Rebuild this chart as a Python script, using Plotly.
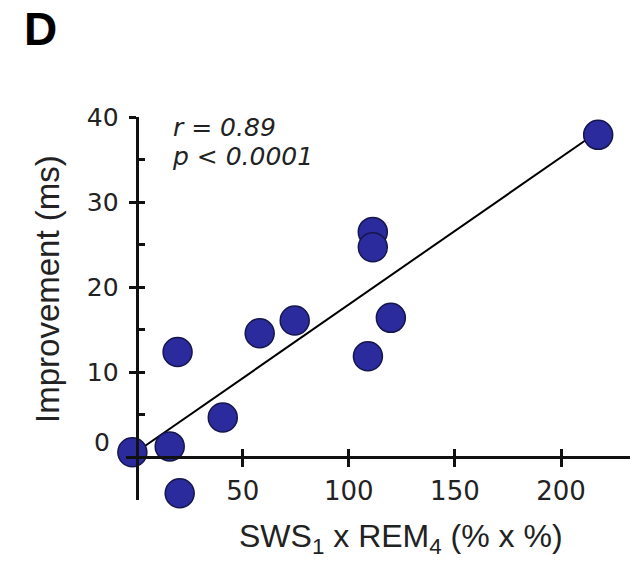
import numpy as np
import plotly.graph_objects as go

# Data
sws_rem = [-2.0, 15.6, 20.3, 19.3, 40.6, 58.0, 74.5, 109.0, 119.8, 111.3, 111.3, 217.5]
improvement = [0.6, 1.3, -4.2, 12.4, 4.7, 14.6, 16.1, 11.9, 16.4, 26.5, 24.7, 37.9]

x_ticks = [50, 100, 150, 200]
y_ticks = [0, 10, 20, 30, 40]
y_minor = [-5, 0, 5, 10, 15, 20, 25, 30, 35, 40]
x_range = [-5, 232.5]
y_range = [-5, 40]

stats_lines = ["r = 0.89", "p < 0.0001"]
panel_label = "D"
x_title = "SWS<sub>1</sub> x REM<sub>4</sub> (% x %)"
y_title = "Improvement (ms)"

# Regression line computed from the data
slope, intercept = np.polyfit(sws_rem, improvement, 1)
fit_x = [0, max(sws_rem)]
fit_y = [intercept + slope * v for v in fit_x]

AX = "#111111"
TICKFONT = "DejaVu Sans"
TITLEFONT = "Liberation Sans, Arial, sans-serif"

fig = go.Figure()
fig.add_trace(go.Scatter(x=fit_x, y=fit_y, mode="lines",
                         line=dict(color="black", width=2),
                         cliponaxis=False, showlegend=False, hoverinfo="skip"))
fig.add_trace(go.Scatter(x=sws_rem, y=improvement, mode="markers",
                         marker=dict(size=29, color="#2b2b9e",
                                     line=dict(color="#16164c", width=1.5)),
                         cliponaxis=False, showlegend=False))
fig.add_trace(go.Scatter(x=[], y=[], xaxis="x2", yaxis="y2", showlegend=False))

x_zero_pos = (0 - x_range[0]) / (x_range[1] - x_range[0])
y_zero_pos = (0 - y_range[0]) / (y_range[1] - y_range[0])

fig.update_layout(
    width=630, height=572,
    margin=dict(l=126, r=0, t=117, b=72),
    paper_bgcolor="white", plot_bgcolor="white",
    showlegend=False,
    xaxis=dict(range=x_range, domain=[0, 1], anchor="free", position=y_zero_pos,
               showline=True, linecolor=AX, linewidth=3,
               ticks="outside", ticklen=8, tickwidth=2.5, tickcolor=AX,
               tickvals=x_ticks, ticktext=[str(v) for v in x_ticks],
               tickfont=dict(family=TICKFONT, size=26, color="#222"),
               ticklabelstandoff=1, automargin=False,
               showgrid=False, zeroline=False),
    xaxis2=dict(range=x_range, domain=[0, 1], overlaying="x", anchor="free",
                position=y_zero_pos, showline=False,
                ticks="inside", ticklen=8, tickwidth=2.5, tickcolor=AX,
                tickvals=x_ticks, showticklabels=False, automargin=False,
                showgrid=False, zeroline=False),
    yaxis=dict(range=y_range, domain=[0, 1], anchor="free", position=x_zero_pos,
               showline=True, linecolor=AX, linewidth=3,
               ticks="outside", ticklen=7, tickwidth=2.5, tickcolor=AX,
               tickvals=y_ticks[1:], ticktext=[str(v) for v in y_ticks[1:]],
               tickfont=dict(family=TICKFONT, size=25, color="#222"),
               ticklabelstandoff=5, automargin=False,
               showgrid=False, zeroline=False),
    yaxis2=dict(range=y_range, domain=[0, 1], overlaying="y", anchor="free",
                position=x_zero_pos, side="left", showline=False,
                ticks="inside", ticklen=7, tickwidth=2.5, tickcolor=AX,
                tickvals=y_minor, showticklabels=False, automargin=False,
                showgrid=False, zeroline=False),
)

annotations = [
    # zero label of y axis (raised above the x axis as in the reference)
    dict(x=0, y=y_ticks[0], xref="x", yref="y", text=str(y_ticks[0]),
         showarrow=False, xanchor="right", yanchor="middle", xshift=-25, yshift=15,
         font=dict(family=TICKFONT, size=25, color="#222")),
    dict(x=0.089, y=0.9713, xref="paper", yref="paper", text="<i>" + stats_lines[0] + "</i>",
         showarrow=False, xanchor="left", yanchor="middle",
         font=dict(family=TICKFONT, size=25, color="#222")),
    dict(x=0.087, y=0.897, xref="paper", yref="paper", text="<i>" + stats_lines[1] + "</i>",
         showarrow=False, xanchor="left", yanchor="middle",
         font=dict(family=TICKFONT, size=25, color="#222")),
    dict(x=-0.206, y=1.2298, xref="paper", yref="paper", text="<b>" + panel_label + "</b>",
         showarrow=False, xanchor="left", yanchor="middle",
         font=dict(family=TITLEFONT, size=46, color="black")),
    dict(x=-0.1548, y=0.551, xref="paper", yref="paper", text=y_title,
         showarrow=False, textangle=-90, xanchor="center", yanchor="middle",
         font=dict(family=TITLEFONT, size=33, color="#222")),
    dict(x=0.5456, y=-0.1018, xref="paper", yref="paper", text=x_title,
         showarrow=False, xanchor="center", yanchor="middle",
         font=dict(family=TITLEFONT, size=32, color="#222")),
]
fig.update_layout(annotations=annotations)

fig.write_html("out.html", config={"displayModeBar": False},
               post_script="document.body.style.margin='0';")
